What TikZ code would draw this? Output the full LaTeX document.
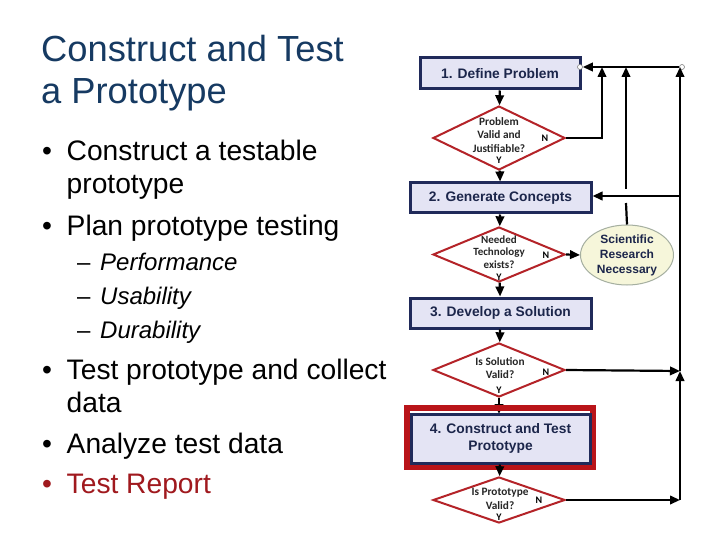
\documentclass[tikz,border=0pt]{standalone}
\usepackage{fontspec}
\setmainfont{Liberation Sans}
\newfontfamily\calib{Carlito}
\usetikzlibrary{shapes.geometric,arrows.meta}
\definecolor{titleblue}{RGB}{22,58,98}
\definecolor{navy}{RGB}{32,42,90}
\definecolor{navytext}{RGB}{28,38,75}
\definecolor{boxfill}{RGB}{228,228,244}
\definecolor{dred}{RGB}{180,35,40}
\definecolor{hired}{RGB}{185,20,25}
\definecolor{repred}{RGB}{160,25,30}
\definecolor{ellfill}{RGB}{246,246,218}
\definecolor{ellline}{RGB}{165,175,160}
\tikzset{
 conn/.style={draw=black, line width=2.2pt, -{Triangle[length=10pt,width=8.5pt]}},
 plainline/.style={draw=black, line width=2.2pt},
 stepbox/.style={draw=navy, fill=boxfill, line width=3pt, inner sep=0, font=\fontsize{13.8}{17}\selectfont\bfseries, text=navytext, align=center},
 decision/.style={diamond, draw=dred, fill=white, line width=2pt, inner sep=0},
 dtext/.style={font=\calib\bfseries\fontsize{11.3}{13.3}\selectfont, align=center, text=black!85, inner sep=0},
 yn/.style={font=\calib\bfseries\fontsize{10}{10}\selectfont, inner sep=0},
 titletext/.style={anchor=base west, inner sep=0, text=titleblue, font=\fontsize{36.3}{42}\selectfont},
 bul/.style={anchor=base west, inner sep=0, font=\fontsize{28.2}{32}\selectfont},
 subitem/.style={anchor=base west, inner sep=0, font=\fontsize{24}{28}\selectfont},
 endcirc/.style={circle, draw=gray, fill=white, line width=0.6pt, minimum size=5pt, inner sep=0},
 ellbox/.style={ellipse, draw=ellline, fill=ellfill, line width=1pt, inner sep=0},
 etext/.style={font=\fontsize{12}{15}\selectfont\bfseries, text=navytext, align=center, inner sep=0},
}
\begin{document}
\begin{tikzpicture}[x=1pt,y=-1pt]
\useasboundingbox[fill=white] (0,0) rectangle (720,540);
% ---- left column ----
\node[titletext] (t1) at (41,62) {Construct and Test};
\node[titletext] (t2) at (41,104) {a Prototype};
\node[bul] (d1a) at (42,161) {•};
\node[bul] (l1) at (66.5,161) {Construct a testable};
\node[bul] (l1b) at (66.5,194) {prototype};
\node[bul] (d2a) at (42,236) {•};
\node[bul] (l2) at (66.5,236) {Plan prototype testing};
\node[subitem] (s1d) at (77,270) {–};
\node[subitem] (s1) at (100,270) {\itshape Performance};
\node[subitem] (s2d) at (77,304) {–};
\node[subitem] (s2) at (100,304) {\itshape Usability};
\node[subitem] (s3d) at (77,338) {–};
\node[subitem] (s3) at (100,338) {\itshape Durability};
\node[bul] (d3a) at (42,379) {•};
\node[bul] (l3) at (66.5,379) {Test prototype and collect};
\node[bul] (l3b) at (66.5,412) {data};
\node[bul] (d4a) at (42,453) {•};
\node[bul] (l4) at (66.5,453) {Analyze test data};
\node[bul,text=repred] (d5a) at (42,493) {•};
\node[bul,text=repred] (l5) at (66.5,493) {Test Report};
% ---- flowchart ----
\node[stepbox, minimum width=160pt, minimum height=31pt] (b1) at (500,73.5) {1. Define Problem};
\node[decision, minimum width=132pt, minimum height=64pt] (q1) at (499,138) {};
\node[dtext] (q1t) at (499,135) {Problem\\Valid and\\Justifiable?};
\node[yn] (q1n) at (545,138) {N};
\node[yn] (q1y) at (499,160.5) {Y};
\node[stepbox, minimum width=181pt, minimum height=30pt] (b2) at (500.5,198) {2. Generate Concepts};
\node[decision, minimum width=132pt, minimum height=55pt] (q2) at (499,254.5) {};
\node[dtext, font=\calib\bfseries\fontsize{11}{12.3}\selectfont] (q2t) at (499,252) {Needed\\Technology\\exists?};
\node[yn] (q2n) at (546,255) {N};
\node[yn] (q2y) at (499,277.5) {Y};
\node[ellbox, minimum width=93pt, minimum height=60pt] (sr) at (627,255) {};
\node[etext] (srt) at (627,255) {Scientific\\Research\\Necessary};
\node[stepbox, minimum width=181pt, minimum height=30pt] (b3) at (500.5,313) {3. Develop a Solution};
\node[decision, minimum width=132pt, minimum height=54pt] (q3) at (499,370) {};
\node[dtext] (q3t) at (500,368) {Is Solution\\Valid?};
\node[yn] (q3n) at (546,372) {N};
\node[yn] (q3y) at (499,390) {Y};
\node[decision, minimum width=132pt, minimum height=46pt] (q4) at (499,500) {};
\node[dtext] (q4t) at (500,499) {Is Prototype\\Valid?};
\node[yn] (q4n) at (539,500) {N};
\node[yn] (q4y) at (499,517) {Y};
\node[endcirc] (c1) at (580,67) {};
\node[endcirc] (c2) at (682,67) {};
\coordinate (top1) at (602,67);
\coordinate (top2) at (626,67);
\coordinate (top3) at (680,67);
\coordinate (g1) at (626,203);
\coordinate (g2) at (626,189);
\coordinate (j2) at (680,196);
\coordinate (j3) at (680,371);
\coordinate (j4) at (680,500);
\coordinate (b4top) at (499,414);
% main flow
\draw[conn] (b1) -- (q1);
\draw[conn] (q1) -- (b2);
\draw[conn] (b2) -- (q2);
\draw[conn] (q2) -- (b3);
\draw[conn] (b3) -- (q3);
\draw[conn] (q3.south) -- (b4top);
% loops
\draw[conn] (c2) -- (c1);
\draw[conn] (q1.east) -| (top1);
\draw[conn] (q2.east) -- (sr.west);
\draw[plainline] (sr.north) -- (g1);
\draw[conn] (g2) -- (top2);
\draw[conn] (j2) -- (b2.east |- j2);
\draw[conn] (q3.east) -- (j3);
\draw[conn] (j3) -- (top3);
\draw[conn] (q4.east) -- (j4);
\draw[conn] (j4) -- (j3);
% highlighted step 4
\draw[hired, line width=6pt] (407,408) rectangle (593,467);
\node[stepbox, minimum width=179pt, minimum height=49pt] (b4) at (500.5,438.5) {4. Construct and Test\\Prototype};
\draw[conn] (b4) -- (q4);
\end{tikzpicture}
\end{document}
